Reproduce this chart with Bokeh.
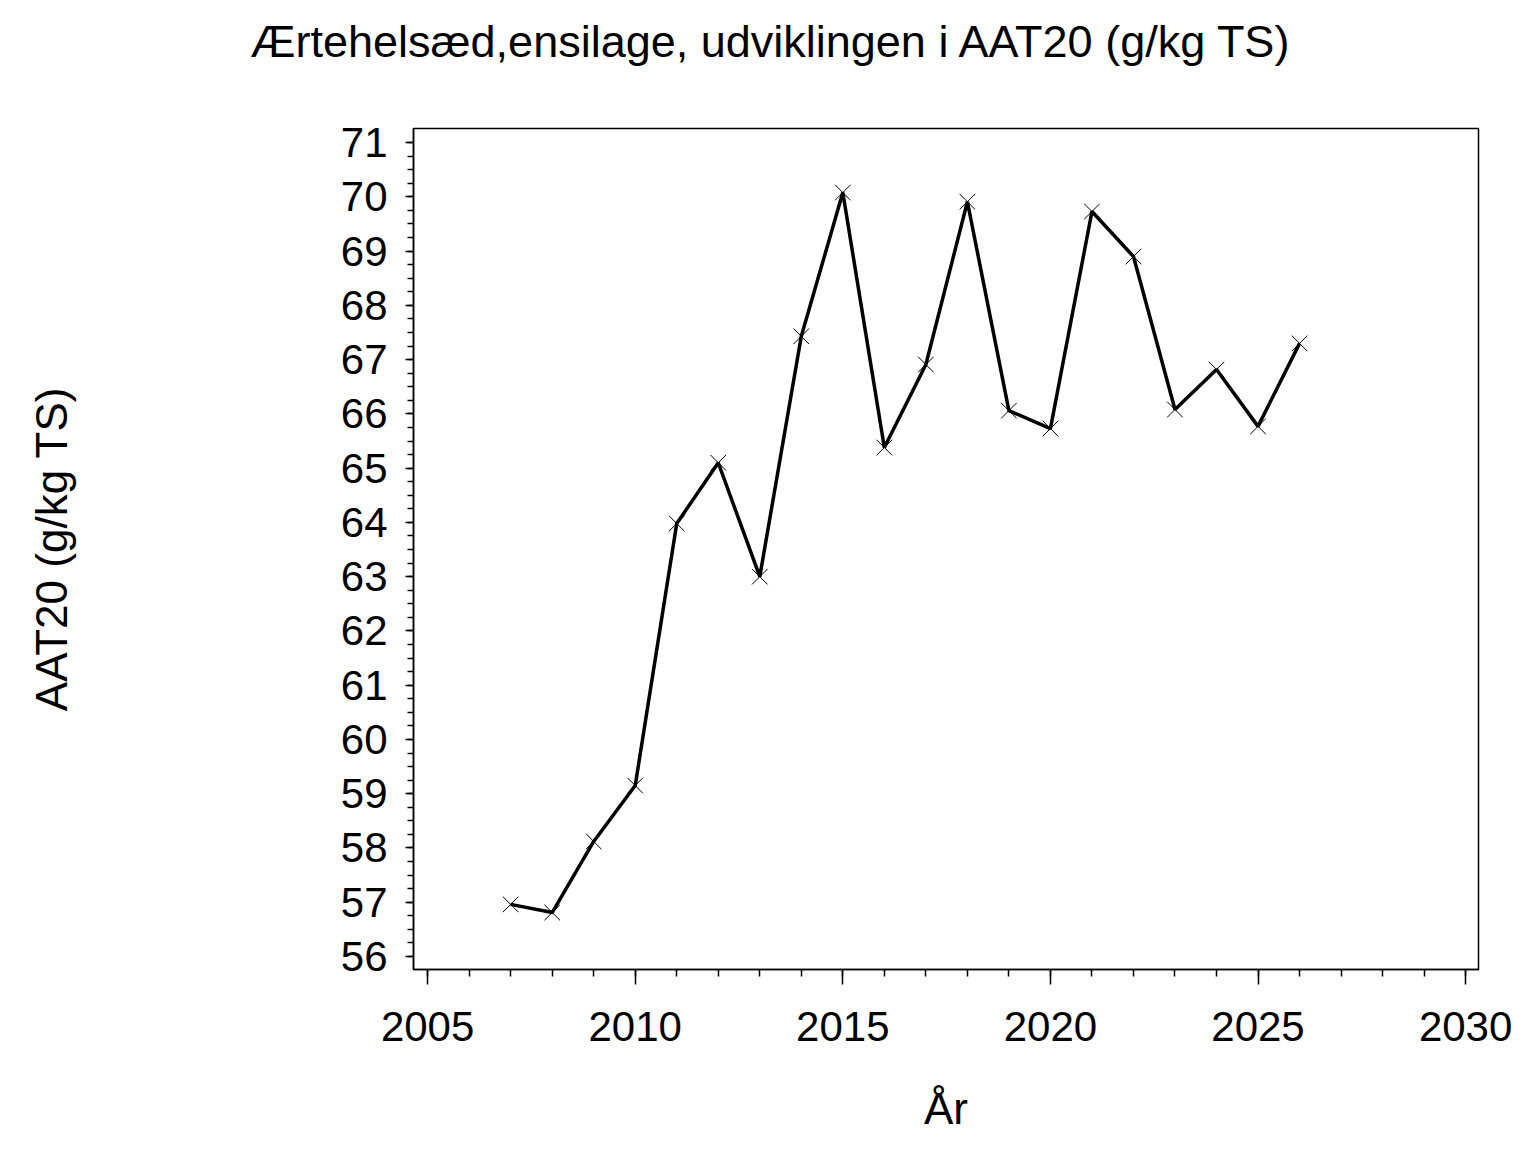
from bokeh.plotting import figure
from bokeh.models import ColumnDataSource, FixedTicker, Range1d, LinearAxis
from bokeh.embed import file_html
from bokeh.resources import INLINE

# Data
years = [2007, 2008, 2009, 2010, 2011, 2012, 2013, 2014, 2015, 2016,
         2017, 2018, 2019, 2020, 2021, 2022, 2023, 2024, 2025, 2026]
aat20 = [56.96, 56.81, 58.12, 59.15, 63.98, 65.10, 63.00, 67.43, 70.08, 65.38,
         66.91, 69.91, 66.06, 65.73, 69.73, 68.90, 66.08, 66.82, 65.77, 67.30]

x_ticks = [2005, 2010, 2015, 2020, 2025, 2030]
y_ticks = list(range(56, 72))

title_text = "Ærtehelsæd,ensilage,  udviklingen i AAT20 (g/kg TS)"
x_label = "År"
y_label = "AAT20 (g/kg TS)"

FONT = "Liberation Sans"

source = ColumnDataSource(data=dict(year=years, value=aat20))

p = figure(width=1520, height=1136,
           x_range=Range1d(2004.66, 2030.31),
           y_range=Range1d(55.76, 71.26),
           title=title_text,
           output_backend="svg",
           toolbar_location=None,
           tools="")

p.min_border_left = 413
p.min_border_right = 42
p.min_border_top = 128
p.min_border_bottom = 167

p.background_fill_color = "white"
p.border_fill_color = "white"
p.outline_line_color = "black"
p.outline_line_width = 1.5
p.grid.visible = False

# Invisible axis above the frame: only there to lift the title up
spacer = LinearAxis(ticker=FixedTicker(ticks=[x_ticks[0]]), major_tick_out=62,
                    major_tick_in=0, minor_tick_out=0, minor_tick_in=0,
                    major_label_standoff=0, major_label_text_font_size="11px",
                    major_label_text_color=None,
                    axis_line_color=None, major_tick_line_color=None,
                    minor_tick_line_color=None)
p.add_layout(spacer, "above")

# Title, centred over the whole page rather than over the frame
p.title.text_font = FONT
p.title.text_font_size = "45px"
p.title.text_font_style = "normal"
p.title.align = "left"
p.title.offset = -163
p.title.vertical_align = "bottom"
p.title.text_color = "black"
p.title.standoff = 0

# Line + markers
p.line(x="year", y="value", source=source, line_color="black", line_width=3.5)
p.scatter(x="year", y="value", source=source, marker="x", size=22,
          line_color="black", line_width=1)

# X axis
xa = p.below[0]
xa.ticker = FixedTicker(ticks=x_ticks, minor_ticks=list(range(2005, 2031)))
xa.axis_label = x_label
xa.major_tick_in = 0
xa.major_tick_out = 15
xa.minor_tick_in = 0
xa.minor_tick_out = 7
xa.major_label_standoff = 27
xa.axis_label_standoff = 40

# Y axis
ya = p.left[0]
ya.ticker = FixedTicker(ticks=y_ticks,
                        minor_ticks=[56 + i * 0.25 for i in range(61)])
ya.axis_label = y_label
ya.major_tick_in = 0
ya.major_tick_out = 8
ya.minor_tick_in = 0
ya.minor_tick_out = 6
ya.major_label_standoff = 18
ya.axis_label_standoff = 262

for ax in [xa, ya]:
    ax.axis_line_color = "black"
    ax.axis_line_width = 1.5
    ax.major_tick_line_color = "black"
    ax.major_tick_line_width = 1.5
    ax.minor_tick_line_color = "black"
    ax.minor_tick_line_width = 1.5
    ax.major_label_text_font = FONT
    ax.major_label_text_font_size = "42px"
    ax.major_label_text_color = "black"
    ax.axis_label_text_font = FONT
    ax.axis_label_text_font_size = "44px"
    ax.axis_label_text_font_style = "normal"
    ax.axis_label_text_color = "black"

open("out.html", "w").write(file_html(p, INLINE))
